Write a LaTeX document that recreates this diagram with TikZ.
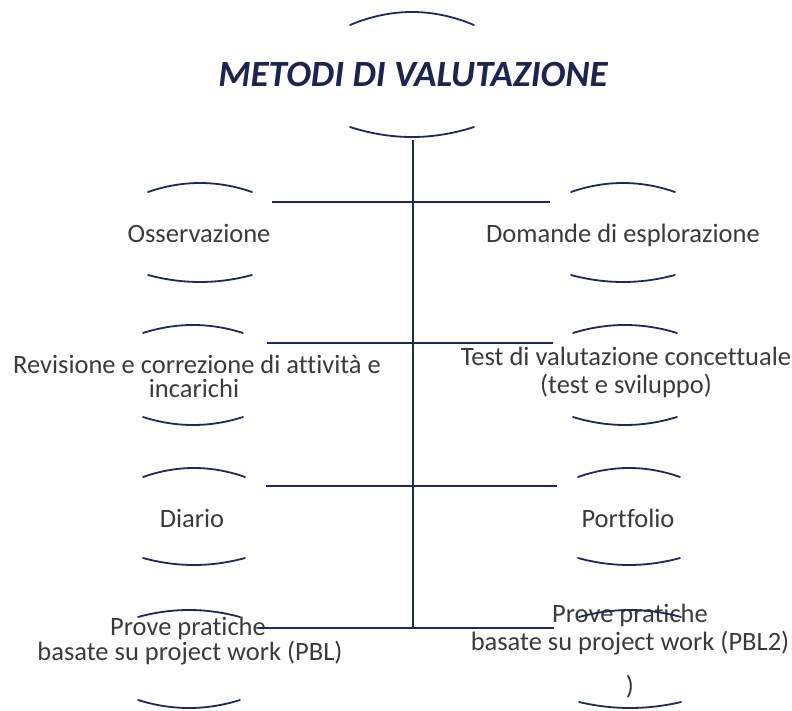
\documentclass[tikz,border=0pt]{standalone}
\usepackage{fontspec}
\setmainfont{Carlito}[Ligatures=NoCommon]
\definecolor{navy}{RGB}{31,42,82}
\definecolor{ttlnavy}{RGB}{28,36,80}
\definecolor{txtgray}{RGB}{58,58,58}
\newcommand\myarcs[6]{%
  \draw[arcline] ({#1-#2},#3) .. controls ({#1-#2/3},{(4*#4-#3)/3}) and ({#1+#2/3},{(4*#4-#3)/3}) .. ({#1+#2},#3);
  \draw[arcline] ({#1-#2},#5) .. controls ({#1-#2/3},{(4*#6-#5)/3}) and ({#1+#2/3},{(4*#6-#5)/3}) .. ({#1+#2},#5);
}
\begin{document}
\begin{tikzpicture}[x=1pt,y=-1pt,
  every node/.style={inner sep=0pt},
  item/.style={anchor=base, text=txtgray, font=\fontsize{26.5}{32}\selectfont},
  ttl/.style={anchor=base, text=ttlnavy, font=\fontsize{37}{44}\selectfont\bfseries\itshape},
  conn/.style={draw=navy, line width=1.5pt},
  arcline/.style={draw=navy, line width=1.8pt, line cap=round}]
\useasboundingbox (0,0) rectangle (792,711);

% title
\node[ttl] (title) at (413,87) {METODI DI VALUTAZIONE};
\myarcs{412}{62}{25}{12}{127}{137}

% items
\node[item] (oss) at (199,243) {Osservazione};
\myarcs{200}{52}{192}{183}{275}{282}
\node[item] (dom) at (623,243) {Domande di esplorazione};
\myarcs{623}{52}{192}{183}{275}{282}

\node[item] (rev) at (197,373) {Revisione e correzione di attività e};
\node[item] (rev2) at (194,397) {incarichi};
\myarcs{193}{50}{333}{325}{417}{425}
\node[item] (test) at (626,365) {Test di valutazione concettuale};
\node[item] (test2) at (626,393) {(test e sviluppo)};
\myarcs{625}{52}{333}{325}{417}{425}

\node[item] (dia) at (192,527) {Diario};
\myarcs{194}{51}{477}{468}{558}{565}
\node[item] (por) at (628,527) {Portfolio};
\myarcs{629}{51}{477}{468}{558}{565}

\node[item] (pl) at (188,635) {Prove pratiche};
\node[item] (pl2) at (190,660) {basate su project work (PBL)};
\myarcs{189}{51}{617}{610}{700}{708}
\node[item] (pr) at (630,622) {Prove pratiche};
\node[item] (pr2) at (630,650) {basate su project work (PBL2)};
\node[item] (pr3) at (630,694) {)};
\myarcs{630}{51}{617}{610}{702}{708}

% connectors
\coordinate (t0) at (413,140);
\coordinate (t1) at (413,628);
\draw[conn] (t0) -- (t1);
\coordinate (h1l) at (272,202); \coordinate (h1r) at (550,202);
\coordinate (h2l) at (267,343); \coordinate (h2r) at (553,343);
\coordinate (h3l) at (266,486); \coordinate (h3r) at (557,486);
\coordinate (h4l) at (258,628); \coordinate (h4r) at (554,628);
\draw[conn] (h1l) -- (h1r);
\draw[conn] (h2l) -- (h2r);
\draw[conn] (h3l) -- (h3r);
\draw[conn] (h4l) -- (h4r);
\end{tikzpicture}
\end{document}
